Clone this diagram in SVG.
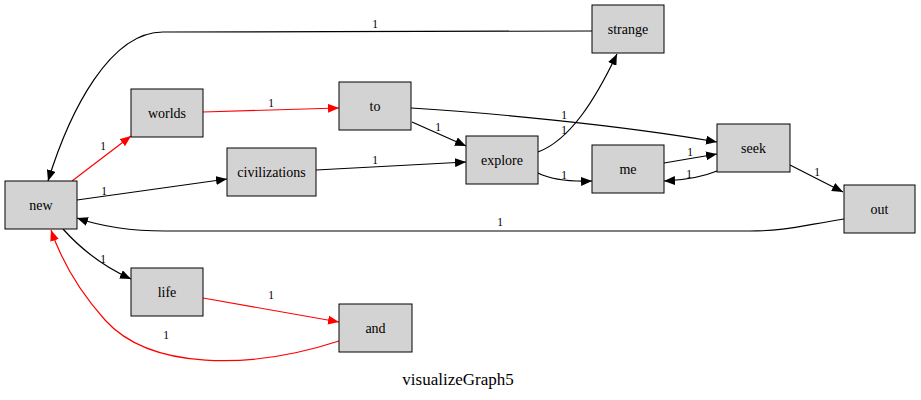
<svg xmlns="http://www.w3.org/2000/svg" width="921" height="400" viewBox="0 0 921 400" font-family="Liberation Serif, Times New Roman, DejaVu Serif, serif">
<style>
.node rect{fill:#d3d3d3;stroke:#000;stroke-width:1}
.node text{font-size:14px;text-anchor:middle;fill:#000}
.e{fill:none;stroke:#000;stroke-width:1.2}
.r{stroke:#ff0000}
.lbl{font-size:11.5px;text-anchor:middle;fill:#000}
.title{font-size:17px;text-anchor:middle;fill:#000}
</style>
<defs>
<marker id="ab" markerUnits="userSpaceOnUse" markerWidth="11" markerHeight="9" viewBox="0 0 11 9" refX="11" refY="4.5" orient="auto"><path d="M0,0 L11,4.5 L0,9 z" fill="#000"/></marker>
<marker id="ar" markerUnits="userSpaceOnUse" markerWidth="11" markerHeight="9" viewBox="0 0 11 9" refX="11" refY="4.5" orient="auto"><path d="M0,0 L11,4.5 L0,9 z" fill="#ff0000"/></marker>
</defs>
<rect width="921" height="400" fill="#fff"/>
<g id="edges">
<path class="e" marker-end="url(#ab)" d="M592,31 C520,31 300,32 163,32 C110,32 70,110 48,181"/>
<text class="lbl" x="375" y="28">1</text>
<path class="e r" marker-end="url(#ar)" d="M72,181 L131,136"/>
<text class="lbl" x="103" y="150">1</text>
<path class="e r" marker-end="url(#ar)" d="M203,112 L339,108"/>
<text class="lbl" x="271" y="107">1</text>
<path class="e" marker-end="url(#ab)" d="M77,200 L227,179"/>
<text class="lbl" x="104" y="195">1</text>
<path class="e" marker-end="url(#ab)" d="M316,170 L466,162"/>
<text class="lbl" x="375" y="164">1</text>
<path class="e" marker-end="url(#ab)" d="M412,122 L466,146"/>
<text class="lbl" x="438" y="131">1</text>
<path class="e" marker-end="url(#ab)" d="M411,108 C480,112 620,125 717,142"/>
<text class="lbl" x="564" y="119">1</text>
<path class="e" marker-end="url(#ab)" d="M538,152 C570,140 595,100 617,54"/>
<text class="lbl" x="564" y="134">1</text>
<path class="e" marker-end="url(#ab)" d="M538,173 C550,179 565,182 592,181"/>
<text class="lbl" x="564" y="179">1</text>
<path class="e" marker-end="url(#ab)" d="M664,163 L717,154"/>
<text class="lbl" x="690" y="156">1</text>
<path class="e" marker-end="url(#ab)" d="M717,171 C705,176 690,180 664,181"/>
<text class="lbl" x="689" y="178">1</text>
<path class="e" marker-end="url(#ab)" d="M790,165 L843,192"/>
<text class="lbl" x="817" y="176">1</text>
<path class="e" marker-end="url(#ab)" d="M844,219 C800,226 785,231 750,231 L165,231 C125,231 100,226 77,218"/>
<text class="lbl" x="500" y="226">1</text>
<path class="e" marker-end="url(#ab)" d="M63,229 C80,248 100,265 131,279"/>
<text class="lbl" x="103" y="263">1</text>
<path class="e r" marker-end="url(#ar)" d="M203,298 L339,322"/>
<text class="lbl" x="271" y="299">1</text>
<path class="e r" marker-end="url(#ar)" d="M339,341 C250,370 150,370 105,320 C80,292 62,262 51,230"/>
<text class="lbl" x="166" y="339">1</text>
</g>
<g id="new" class="node"><rect x="5" y="181" width="72" height="48"/><text x="41" y="210">new</text></g>
<g id="worlds" class="node"><rect x="131" y="89" width="72" height="48"/><text x="167" y="118">worlds</text></g>
<g id="civilizations" class="node"><rect x="227" y="148" width="89" height="48"/><text x="271.5" y="177">civilizations</text></g>
<g id="to" class="node"><rect x="339" y="82" width="72" height="48"/><text x="375" y="111">to</text></g>
<g id="explore" class="node"><rect x="466" y="136" width="72" height="48"/><text x="502" y="165">explore</text></g>
<g id="strange" class="node"><rect x="592" y="5" width="72" height="48"/><text x="628" y="34">strange</text></g>
<g id="me" class="node"><rect x="592" y="145" width="72" height="48"/><text x="628" y="174">me</text></g>
<g id="seek" class="node"><rect x="717" y="124" width="73" height="48"/><text x="753.5" y="153">seek</text></g>
<g id="out" class="node"><rect x="844" y="185" width="71" height="48"/><text x="879.5" y="214">out</text></g>
<g id="life" class="node"><rect x="131" y="268" width="72" height="48"/><text x="167" y="297">life</text></g>
<g id="and" class="node"><rect x="339" y="304" width="73" height="48"/><text x="375.5" y="333">and</text></g>
<text class="title" x="458" y="385">visualizeGraph5</text>
</svg>
